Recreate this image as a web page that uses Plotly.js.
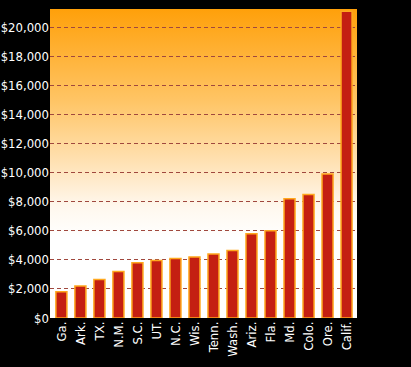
<!DOCTYPE html>
<html>
<head>
<meta charset="utf-8">
<script src="https://cdn.plot.ly/plotly-3.0.1.min.js"></script>
<style>html,body{margin:0;padding:0;background:#000;}</style>
</head>
<body>
<div id="chart" style="width:411px;height:367px;"></div>
<script>
const states = ["Ga.","Ark.","TX.","N.M.","S.C.","UT.","N.C.","Wis.","Tenn.","Wash.","Ariz.","Fla.","Md.","Colo.","Ore.","Calif."];
const values = [1800,2200,2650,3200,3800,3950,4100,4200,4400,4650,5800,6000,8200,8500,9900,21100];
const tickVals = [0,2000,4000,6000,8000,10000,12000,14000,16000,18000,20000];
const tickText = ["$0","$2,000","$4,000","$6,000","$8,000","$10,000","$12,000","$14,000","$16,000","$18,000","$20,000"];

const svg = '<svg xmlns="http://www.w3.org/2000/svg" width="100" height="100" preserveAspectRatio="none">' +
  '<defs><linearGradient id="g" x1="0" y1="0" x2="0" y2="1">' +
  '<stop offset="0" stop-color="#ffa00a"/>' +
  '<stop offset="0.3" stop-color="#ffc566"/>' +
  '<stop offset="0.5" stop-color="#ffe2b5"/>' +
  '<stop offset="0.64" stop-color="#fff8ee"/>' +
  '<stop offset="0.74" stop-color="#ffffff"/>' +
  '<stop offset="1" stop-color="#ffffff"/>' +
  '</linearGradient></defs><rect width="100" height="100" fill="url(#g)"/></svg>';
const bgSrc = 'data:image/svg+xml;base64,' + btoa(svg);

const font = {family: '"DejaVu Sans Condensed", "Liberation Sans Narrow", sans-serif', color: '#ffffff', size: 13, stretch: 'condensed'};

Plotly.newPlot('chart', [{
  type: 'bar',
  x: states,
  y: values,
  width: 0.58,
  marker: {color: '#c41f12', line: {color: '#ffa81e', width: 1.5}},
  hoverinfo: 'x+y'
}], {
  width: 411, height: 367,
  paper_bgcolor: '#000000',
  plot_bgcolor: 'rgba(0,0,0,0)',
  margin: {l: 50, r: 54, t: 9, b: 49, pad: 0},
  showlegend: false,
  font: font,
  images: [{
    source: bgSrc, xref: 'paper', yref: 'paper', x: 0, y: 1,
    sizex: 1, sizey: 1, xanchor: 'left', yanchor: 'top',
    sizing: 'stretch', layer: 'below'
  }],
  xaxis: {
    tickangle: -90, showgrid: false, zeroline: false, showline: false,
    ticks: '', tickfont: font, range: [-0.6, 15.55], fixedrange: true
  },
  yaxis: {
    range: [0, 21250], tickvals: tickVals, ticktext: tickText,
    showgrid: true, gridcolor: '#a0483e', griddash: '4px,3px', gridwidth: 1,
    zeroline: false, showline: false, ticks: '', ticklen: 0,
    tickfont: font, fixedrange: true
  },
  bargap: 0.4
}, {displayModeBar: false, staticPlot: true});
</script>
</body>
</html>
